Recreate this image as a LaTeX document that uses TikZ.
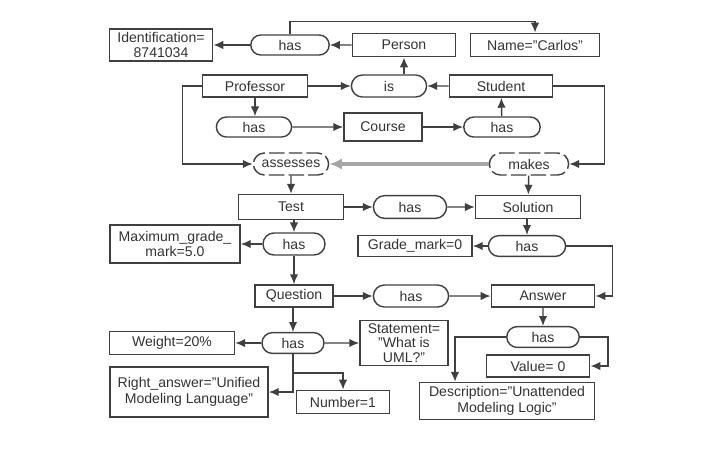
\documentclass[tikz,border=0pt]{standalone}
\usepackage{fontspec}
\setmainfont{Liberation Sans}
\usepackage{tikz}
\usetikzlibrary{shapes.misc, arrows.meta, positioning}
\tikzstyle{entity} = [rectangle, 
draw=black!75, 
line width=1.2pt, 
minimum height=0.55cm, 
inner sep=1pt, text centered, align=center, 
text=black!80]
\tikzstyle{relation} = [rounded rectangle, 
draw=black!75, 
line width=1pt, 
minimum height=0.5cm, 
inner sep=1pt, text centered, 
text=black!80]
\tikzstyle{arrow} = [line width=1pt, draw=black!75, -{Latex[length=7pt,width=6pt]}]

\begin{document}
\begin{tikzpicture}[
        x=0.025cm, y=-0.025cm,
        font=\fontsize{10}{11}\selectfont,
        % relacion derivada (borde discontinuo)
        derived/.style={relation, dash pattern=on 11pt off 3pt, dash phase=3pt},
        % flecha gris de la inferencia
        infer/.style={line width=2.6pt, draw=black!35, -{Latex[length=9pt,width=8pt]}},
    ]
        \useasboundingbox (0,0) rectangle (720,450);

        % Persona y sus atributos
        \node (ident) [entity, minimum width=2.58cm, minimum height=0.8cm] at (161,45) {Identification=\\8741034};
        \node (hasid) [relation, minimum width=2.03cm] at (290,45) {has};
        \node (person) [entity, minimum width=2.58cm, minimum height=0.58cm] at (404,45) {Person};
        \node (name) [entity, minimum width=3.22cm, minimum height=0.58cm] at (535,45) {Name="Carlos"};

        % Profesor, estudiante y curso
        \node (prof) [entity, minimum width=2.62cm] at (255,86) {Professor};
        \node (is) [relation, minimum width=1.95cm, minimum height=0.55cm] at (389,86) {is};
        \node (student) [entity, minimum width=2.58cm] at (501,86) {Student};
        \node (hasprof) [relation, minimum width=1.95cm] at (254,127) {has};
        \node (course) [entity, minimum width=1.95cm, minimum height=0.7cm] at (383,127) {Course};
        \node (hasstud) [relation, minimum width=1.98cm] at (502,127) {has};

        % Relaciones derivadas
        \node (assess) [derived, minimum width=1.95cm, minimum height=0.55cm] at (291,164) {assesses};
        \node (makes) [derived, minimum width=2.05cm, minimum height=0.55cm] at (529,164) {makes};

        % Examen y solucion
        \node (test) [entity, minimum width=2.62cm, minimum height=0.62cm] at (291,207) {Test};
        \node (hassol) [relation, minimum width=1.9cm, minimum height=0.57cm] at (410,207) {has};
        \node (sol) [entity, minimum width=2.62cm, minimum height=0.58cm] at (528,207) {Solution};
        \node (hasmax) [relation, minimum width=1.62cm, minimum height=0.55cm] at (294,244) {has};
        \node (maxgrade) [entity, minimum width=3.25cm, minimum height=0.95cm] at (175,244) {Maximum\_grade\_\\mark=5.0};
        \node (hasgrade) [relation, minimum width=2cm, minimum height=0.52cm] at (527,246) {has};
        \node (grade) [entity, minimum width=2.85cm, minimum height=0.52cm] at (415,246) {Grade\_mark=0};

        % Pregunta y respuesta
        \node (quest) [entity, minimum width=1.95cm] at (294,296) {Question};
        \node (hasans) [relation, minimum width=1.95cm, minimum height=0.55cm] at (411,296) {has};
        \node (answer) [entity, minimum width=2.58cm] at (543,296) {Answer};
        \node (hasq) [relation, minimum width=1.62cm, minimum height=0.52cm] at (293,343) {has};
        \node (weight) [entity, minimum width=3.12cm, minimum height=0.58cm] at (172,343) {Weight=20\%};
        \node (statement) [entity, minimum width=2.2cm, minimum height=1.12cm, inner sep=0pt, font=\fontsize{10}{10.5}\selectfont] at (404,343) {Statement=\\"What is\\UML?"};
        \node (right) [entity, minimum width=3.95cm, minimum height=1.25cm] at (189,392) {Right\_answer="Unified\\Modeling Language"};
        \node (number) [entity, minimum width=2.32cm, minimum height=0.58cm] at (343,402) {Number=1};
        \node (hasa) [relation, minimum width=1.88cm, minimum height=0.52cm] at (543,337) {has};
        \node (value) [entity, minimum width=2.58cm] at (538,366) {Value= 0};
        \node (descr) [entity, minimum width=4.38cm, minimum height=0.92cm] at (507,401) {Description="Unattended\\Modeling Logic"};

        % Conectores
        \draw[arrow] (person) -- (hasid);
        \draw[arrow] (hasid) -- (ident);
        \draw[arrow] (hasid.north) -- ++(0,-13) -| (name.north);
        \draw[arrow] (prof) -- (is);
        \draw[arrow] (student) -- (is);
        \draw[arrow] (is.north -| person.south) -- (person.south);
        \draw[arrow] (prof.south) -- (hasprof.north -| prof.south);
        \draw[arrow] (hasprof) -- (course);
        \draw[arrow] (course) -- (hasstud);
        \draw[arrow] (hasstud) -- (student);
        \draw[arrow] (prof.west) -- ++(-19,0) |- (assess.west);
        \draw[arrow] (student.east) -- ++(51,0) |- (makes.east);
        \draw[infer] (makes.west) -- (assess.east);
        \draw[arrow] (assess) -- (test);
        \draw[arrow] (makes) -- (sol);
        \draw[arrow] (test) -- (hassol);
        \draw[arrow] (hassol) -- (sol);
        \draw[arrow] (test.south -| hasmax.north) -- (hasmax.north);
        \draw[arrow] (hasmax) -- (maxgrade);
        \draw[arrow] (hasmax.south) -- (quest.north -| hasmax.south);
        \draw[arrow] (sol.south -| hasgrade.north) -- (hasgrade.north);
        \draw[arrow] (hasgrade) -- (grade);
        \draw[arrow] (hasgrade.east) -- ++(46,0) |- (answer.east);
        \draw[arrow] (quest) -- (hasans);
        \draw[arrow] (hasans) -- (answer);
        \draw[arrow] (quest.south -| hasq.north) -- (hasq.north);
        \draw[arrow] (hasq) -- (weight);
        \draw[arrow] (hasq) -- (statement);
        \draw[arrow] (hasq.south) |- (right.east);
        \draw[arrow] (hasq.south) -- ++(0,19) -| (number.north);
        \draw[arrow] (answer) -- (hasa);
        \draw[arrow] (hasa.east) -- ++(28,0) |- (value.east);
        \draw[arrow] (hasa.west) -| ([xshift=-1.3cm]descr.north);

    \end{tikzpicture}
\end{document}
